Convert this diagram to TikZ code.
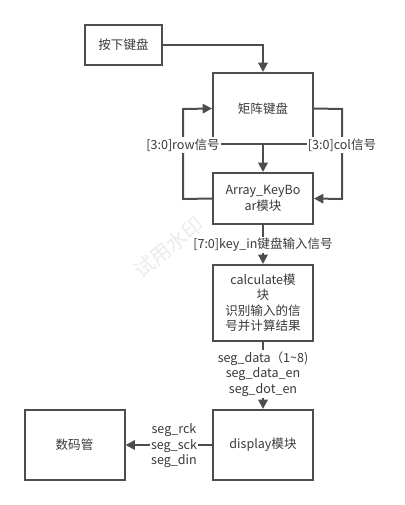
\documentclass[tikz,border=0pt]{standalone}
\usepackage{fontspec}
\setmainfont{Noto Sans CJK SC}
\usetikzlibrary{arrows.meta}
\definecolor{linegray}{HTML}{4D4D4D}
\definecolor{textgray}{HTML}{3A3A3A}
\definecolor{markgray}{HTML}{EBEBEB}
\begin{document}
\begin{tikzpicture}[x=0.75pt,y=-0.75pt,font=\fontsize{9.4}{11.6}\selectfont,
    every node/.style={text=textgray},
    block/.style={draw=linegray,line width=1.5pt,fill=white,align=center,
        minimum width=75pt,inner sep=1pt},
    sig/.style={fill=white,inner sep=1pt,align=center},
    link/.style={draw=linegray,line width=1.5pt,-{Triangle[length=7pt,width=7pt]}}]
    \useasboundingbox (0,0) rectangle (404,505);
    % watermark
    \node[text=markgray,rotate=39,font=\fontsize{15.5}{15.5}\selectfont] (wm) at (169,247) {试用水印};
    \node[block,minimum width=57.75pt,minimum height=30pt] (press) at (123.5,45) {按下键盘};
    \node[block,minimum height=53.25pt] (matrix) at (263,108.5) {矩阵键盘};
    \node[block,minimum height=38.25pt,text width=70pt] (akb) at (263,198.5) {Array\_KeyBo\\ar模块};
    \node[block,minimum height=57pt,text width=70pt] (calc) at (263,303) {calculate模\\块\\识别输入的信\\号并计算结果};
    \node[block,minimum height=52.5pt] (disp) at (263,445) {display模块};
    \node[block,minimum height=52.5pt] (tube) at (74.5,445) {数码管};
    \coordinate (rowL) at (183,199);
    \coordinate (rowT) at (183,109);
    \coordinate (colT) at (342,109);
    \coordinate (colB) at (342,199);
    \draw[link] (press.east) -| (matrix.north);
    \draw[link] (matrix.south) -- (akb.north);
    \draw[link] (akb.west) -- (rowL) -- (rowT) -- (matrix.west);
    \draw[link] (matrix.east) -- (colT) -- (colB) -- (akb.east);
    \draw[link] (akb.south) -- (calc.north);
    \draw[link] (calc.south) -- (disp.north);
    \draw[link] (disp.west) -- (tube.east);
    \node[sig] (rowsig) at (183,145) {[3:0]row信号};
    \node[sig] (colsig) at (342,145) {[3:0]col信号};
    \node[sig] (keyin) at (263,245) {[7:0]key\_in键盘输入信号};
    \node[sig] (segdata) at (263,374) {seg\_data（1\textasciitilde 8)\\seg\_data\_en\\seg\_dot\_en};
    \node[sig] (segout) at (174,446) {seg\_rck\\seg\_sck\\seg\_din};
\end{tikzpicture}
\end{document}
